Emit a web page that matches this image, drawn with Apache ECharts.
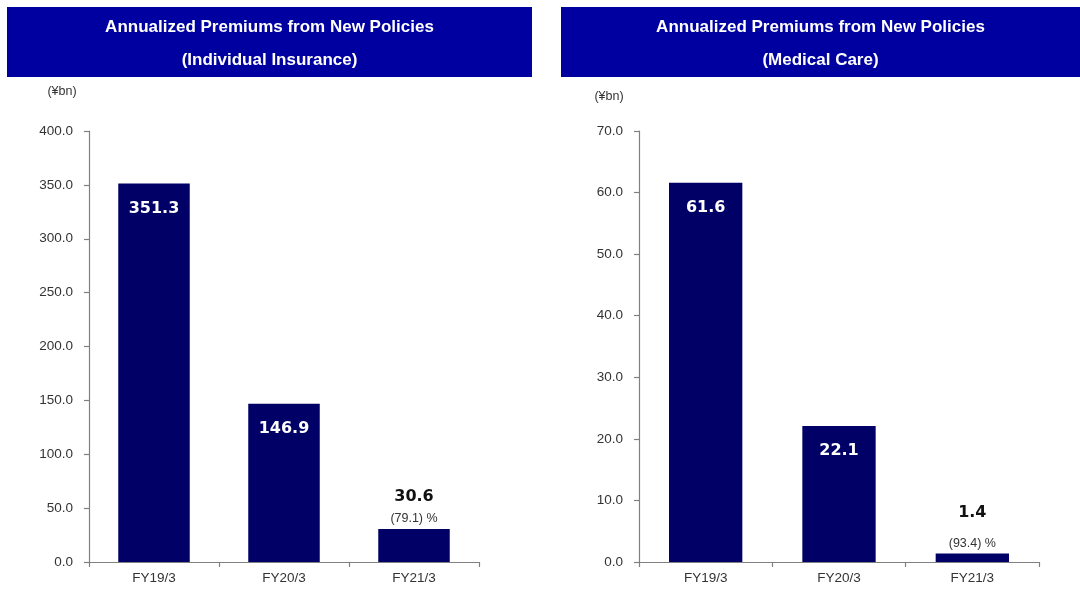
<!DOCTYPE html>
<html>
<head>
<meta charset="utf-8">
<script src="https://cdn.jsdelivr.net/npm/echarts@6/dist/echarts.min.js"></script>
<style>
  html, body { margin: 0; padding: 0; background: #ffffff; }
  #chart { width: 1080px; height: 589px; }
</style>
</head>
<body>
<div id="chart"></div>
<script>
// Fiscal years shown on both panels
const categories = ['FY19/3', 'FY20/3', 'FY21/3'];

// Annualized premiums from new policies, ¥bn
const individualValues = [351.3, 146.9, 30.6];
const medicalValues = [61.6, 22.1, 1.4];

// Year-on-year change of the latest year, %
const individualChange = [null, null, -79.1];
const medicalChange = [null, null, -93.4];

// Value-axis ranges and steps
const individualAxis = { max: 400, interval: 50 };
const medicalAxis = { max: 70, interval: 10 };

const panelTitles = [
  ['Annualized Premiums from New Policies', '(Individual Insurance)'],
  ['Annualized Premiums from New Policies', '(Medical Care)']
];

const BAR = '#000066';
const HEADER = '#0000a0';
const AXIS = '#808080';
const TEXT = '#333333';
const SANS = '"Liberation Sans", Arial, sans-serif';
const VALUE_FONT = '"DejaVu Sans", Verdana, sans-serif';

function fmtChange(v) {
  return '(' + Math.abs(v).toFixed(1) + ') %';
}

// Bars: large values get a white label inside the top, the latest year
// gets its value and change stacked above the bar.
function buildData(values, changes, gapHeight) {
  return values.map(function (v, i) {
    if (changes[i] == null) {
      return {
        value: v,
        label: {
          show: true,
          position: 'insideTop',
          distance: 17,
          color: '#ffffff',
          fontFamily: VALUE_FONT,
          fontWeight: 'bold',
          fontSize: 16,
          formatter: function (p) { return p.value.toFixed(1); }
        }
      };
    }
    return {
      value: v,
      label: {
        show: true,
        position: 'top',
        distance: 2,
        formatter: function (p) {
          return '{v|' + p.value.toFixed(1) + '}\n{p|' + fmtChange(changes[i]) + '}';
        },
        rich: {
          v: {
            fontFamily: VALUE_FONT, fontWeight: 'bold', fontSize: 16,
            color: '#111111', lineHeight: gapHeight, align: 'center'
          },
          p: {
            fontFamily: SANS, fontSize: 12.5, color: TEXT,
            lineHeight: 16, align: 'center'
          }
        }
      }
    };
  });
}

function valueAxis(idx, range) {
  return {
    type: 'value',
    gridIndex: idx,
    min: 0,
    max: range.max,
    interval: range.interval,
    axisLine: { show: true, lineStyle: { color: AXIS, width: 1.2 } },
    axisTick: { show: true, length: 5, lineStyle: { color: AXIS, width: 1.2 } },
    splitLine: { show: false },
    axisLabel: {
      margin: 16,
      color: TEXT,
      fontFamily: SANS,
      fontSize: 13.5,
      formatter: function (v) { return v.toFixed(1); }
    }
  };
}

function categoryAxis(idx) {
  return {
    type: 'category',
    gridIndex: idx,
    data: categories,
    boundaryGap: true,
    axisLine: { show: true, lineStyle: { color: AXIS, width: 1.2 } },
    axisTick: { show: true, length: 5, lineStyle: { color: AXIS, width: 1.2 } },
    axisLabel: {
      margin: 9,
      color: TEXT,
      fontFamily: SANS,
      fontSize: 13.5
    }
  };
}

function header(x, w, lines) {
  return {
    type: 'group',
    children: [
      { type: 'rect', shape: { x: x, y: 7, width: w, height: 70 }, style: { fill: HEADER } },
      {
        type: 'text', x: x + w / 2, y: 27,
        style: {
          text: lines[0], fill: '#ffffff', font: 'bold 17px ' + SANS,
          textAlign: 'center', textVerticalAlign: 'middle'
        }
      },
      {
        type: 'text', x: x + w / 2, y: 60,
        style: {
          text: lines[1], fill: '#ffffff', font: 'bold 17px ' + SANS,
          textAlign: 'center', textVerticalAlign: 'middle'
        }
      }
    ]
  };
}

const chart = echarts.init(document.getElementById('chart'));

chart.setOption({
  backgroundColor: '#ffffff',
  animation: false,
  grid: [
    { left: 89, top: 131, width: 390, height: 431 },
    { left: 639, top: 131, width: 400, height: 431 }
  ],
  xAxis: [categoryAxis(0), categoryAxis(1)],
  yAxis: [valueAxis(0, individualAxis), valueAxis(1, medicalAxis)],
  series: [
    {
      type: 'bar', xAxisIndex: 0, yAxisIndex: 0,
      barWidth: '55%',
      itemStyle: { color: BAR },
      data: buildData(individualValues, individualChange, 28)
    },
    {
      type: 'bar', xAxisIndex: 1, yAxisIndex: 1,
      barWidth: '55%',
      itemStyle: { color: BAR },
      data: buildData(medicalValues, medicalChange, 46)
    }
  ],
  graphic: [
    header(7, 525, panelTitles[0]),
    header(561, 519, panelTitles[1]),
    {
      type: 'text', x: 62, y: 92,
      style: { text: '(¥bn)', fill: TEXT, font: '12.5px ' + SANS, textAlign: 'center', textVerticalAlign: 'middle' }
    },
    {
      type: 'text', x: 609, y: 97,
      style: { text: '(¥bn)', fill: TEXT, font: '12.5px ' + SANS, textAlign: 'center', textVerticalAlign: 'middle' }
    }
  ]
});
</script>
</body>
</html>
